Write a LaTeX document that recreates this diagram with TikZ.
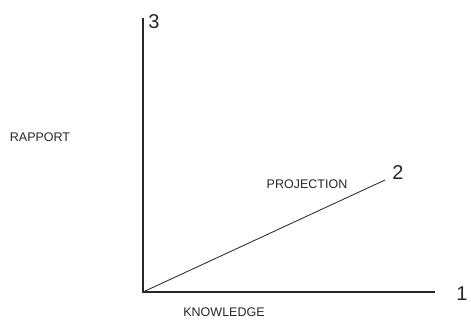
\documentclass[tikz,border=0pt]{standalone}
\usepackage{fontspec}
\setmainfont{Liberation Sans}
\begin{document}
\begin{tikzpicture}[x=1pt,y=-1pt,
  axis/.style={line width=1.8pt,black!85},
  proj/.style={line width=0.9pt,black!80},
  lab/.style={font=\fontsize{12.5}{14}\selectfont,inner sep=0pt,black!85},
  num/.style={font=\fontsize{20}{22}\selectfont,inner sep=0pt,black!85}]
\useasboundingbox (0,0) rectangle (471,320);
\coordinate (o) at (143,292);
\coordinate (top) at (143,18);
\coordinate (right) at (435,292);
\coordinate (pe) at (385,180);
\draw[axis] (top) -- (o) -- (right);
\draw[proj] (o) -- (pe);
\node[num] (n3) at (154,22) {3};
\node[num] (n1) at (462,294) {1};
\node[num] (n2) at (398,173) {2};
\node[lab] (rap) at (40,137) {RAPPORT};
\node[lab] (proj) at (307,184) {PROJECTION};
\node[lab] (know) at (224,312) {KNOWLEDGE};
\end{tikzpicture}
\end{document}
